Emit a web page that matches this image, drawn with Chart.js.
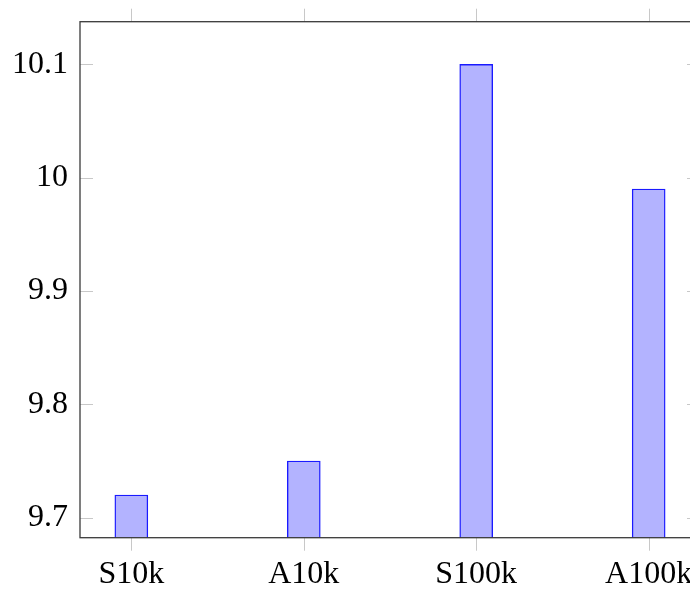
<!DOCTYPE html>
<html>
<head>
<meta charset="utf-8">
<script src="https://cdn.jsdelivr.net/npm/chart.js@4/dist/chart.umd.min.js"></script>
<style>
  html, body { margin: 0; padding: 0; background: #fff; overflow: hidden; }
  canvas { display: block; }
</style>
</head>
<body>
<canvas id="c" width="720" height="589"></canvas>
<script>
// Benchmark categories and their measured values
const categories = ['S10k', 'A10k', 'S100k', 'A100k'];
const values = [9.72, 9.75, 10.1, 9.99];
const yTicks = [9.7, 9.8, 9.9, 10, 10.1];
const yTickLabels = ['9.7', '9.8', '9.9', '10', '10.1'];

const FONT = { family: '"Liberation Serif", "Times New Roman", serif', size: 32 };
const TICK_COLOR = '#c8c8c8';
const TICK_LEN = 13;

// Frame and pgfplots-style tick marks (inside on y, outside on x)
const framePlugin = {
  id: 'frame',
  afterDraw(chart) {
    const { ctx, chartArea: a, scales } = chart;
    ctx.save();
    ctx.lineWidth = 1;
    ctx.strokeStyle = TICK_COLOR;
    ctx.beginPath();
    scales.y.ticks.forEach(t => {
      const py = Math.round(scales.y.getPixelForValue(t.value)) + 0.5;
      ctx.moveTo(a.left, py); ctx.lineTo(a.left + TICK_LEN, py);
      ctx.moveTo(a.right, py); ctx.lineTo(a.right - TICK_LEN, py);
    });
    scales.x.ticks.forEach(t => {
      const px = Math.round(scales.x.getPixelForValue(t.value)) + 0.5;
      ctx.moveTo(px, a.bottom); ctx.lineTo(px, a.bottom + TICK_LEN);
      ctx.moveTo(px, a.top); ctx.lineTo(px, a.top - TICK_LEN);
    });
    ctx.stroke();
    ctx.strokeStyle = '#3a3a3a';
    ctx.lineWidth = 1.3;
    ctx.strokeRect(a.left, a.top, a.right - a.left, a.bottom - a.top);
    ctx.restore();
  }
};

new Chart(document.getElementById('c'), {
  type: 'bar',
  data: {
    datasets: [{
      data: values.map((v, i) => ({ x: i, y: v })),
      backgroundColor: 'rgb(179,179,255)',
      borderColor: '#1a1aff',
      borderWidth: 1.4,
      borderSkipped: false,
      barThickness: 33
    }]
  },
  options: {
    responsive: false,
    animation: false,
    layout: { padding: { top: 21.7, right: 20, left: 0, bottom: 0 } },
    plugins: { legend: { display: false }, tooltip: { enabled: false } },
    scales: {
      x: {
        type: 'linear',
        offset: false,
        min: -0.2977,
        max: 3.2977,
        grid: { display: false, drawTicks: false, offset: false },
        border: { display: false },
        afterBuildTicks: s => { s.ticks = categories.map((_, i) => ({ value: i })); },
        afterFit: s => { s.height = 51.3; s.paddingLeft = 0; s.paddingRight = 0; },
        ticks: {
          font: FONT,
          color: '#000',
          padding: 18,
          maxRotation: 0,
          autoSkip: false,
          callback: v => categories[v]
        }
      },
      y: {
        min: 9.6823,
        max: 10.1376,
        grid: { display: false, drawTicks: false },
        border: { display: false },
        afterBuildTicks: s => { s.ticks = yTicks.map(v => ({ value: v })); },
        afterFit: s => { s.width = 80; s.paddingTop = 0; s.paddingBottom = 0; },
        ticks: {
          font: FONT,
          color: '#000',
          padding: 12,
          callback: (v, i) => yTickLabels[i]
        }
      }
    }
  },
  plugins: [framePlugin]
});
</script>
</body>
</html>
